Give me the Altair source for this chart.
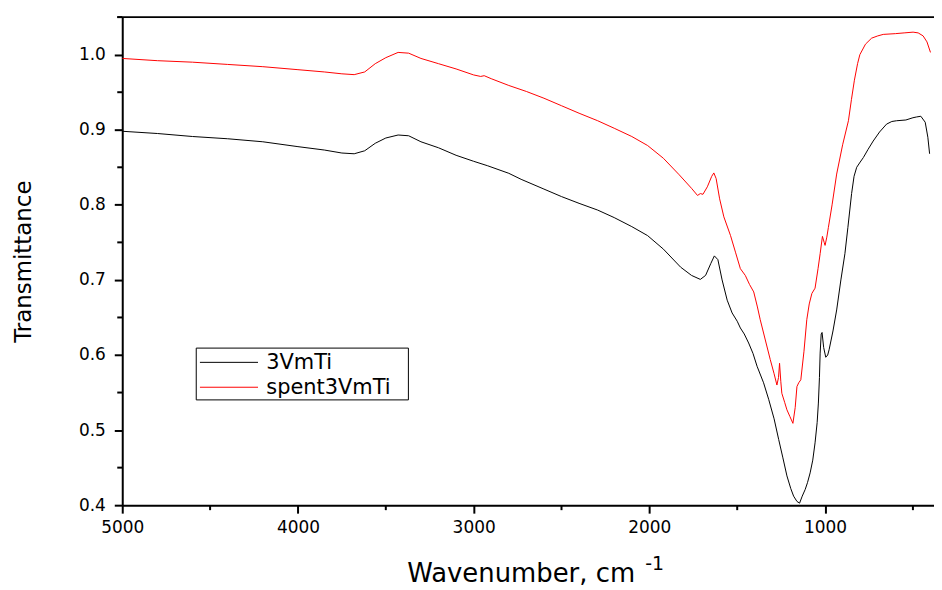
import altair as alt
import pandas as pd

# ---- data ----
wn_black = [5000, 4800, 4600, 4400, 4200, 4000, 3850, 3750, 3680, 3620, 3560, 3500, 3430, 3370, 3300, 3200,
            3100, 3000, 2920, 2800, 2730, 2600, 2500, 2400, 2294, 2200, 2100, 2010, 1920, 1822, 1760, 1710,
            1680, 1650, 1630, 1610, 1586, 1557, 1529, 1500, 1482, 1460, 1435, 1410, 1387, 1350, 1321, 1290,
            1264, 1240, 1217, 1195, 1179, 1160, 1145, 1130, 1113, 1100, 1085, 1070, 1057, 1045, 1038, 1032,
            1028, 1022, 1017, 1008, 996, 985, 977, 955, 934, 910, 887, 870, 849, 835, 820, 800, 782, 755,
            726, 690, 650, 620, 593, 540, 500, 480, 455, 430, 415, 405]
tr_black = [0.898, 0.895, 0.891, 0.888, 0.884, 0.8775, 0.873, 0.869, 0.868, 0.872, 0.882, 0.889, 0.893, 0.892,
            0.884, 0.876, 0.866, 0.858, 0.852, 0.842, 0.834, 0.821, 0.811, 0.802, 0.793, 0.783, 0.771, 0.759,
            0.741, 0.717, 0.706, 0.7007, 0.706, 0.722, 0.732, 0.727, 0.700, 0.673, 0.656, 0.645, 0.636, 0.628,
            0.616, 0.602, 0.585, 0.563, 0.541, 0.515, 0.4875, 0.463, 0.439, 0.422, 0.412, 0.405, 0.4027, 0.412,
            0.421, 0.430, 0.443, 0.460, 0.483, 0.510, 0.536, 0.570, 0.6025, 0.628, 0.630, 0.610, 0.597, 0.600,
            0.607, 0.632, 0.660, 0.700, 0.735, 0.770, 0.815, 0.838, 0.850, 0.857, 0.863, 0.874, 0.885, 0.897,
            0.9075, 0.911, 0.912, 0.913, 0.916, 0.917, 0.918, 0.910, 0.890, 0.868]

wn_red = [5000, 4800, 4600, 4400, 4200, 4000, 3850, 3750, 3680, 3620, 3560, 3500, 3430, 3370, 3300, 3200, 3100,
          3000, 2960, 2940, 2900, 2800, 2700, 2600, 2500, 2400, 2294, 2200, 2100, 2010, 1920, 1830, 1760, 1726,
          1710, 1695, 1670, 1645, 1633, 1620, 1600, 1576, 1538, 1510, 1482, 1454, 1430, 1406, 1385, 1369, 1340,
          1312, 1290, 1274, 1265, 1259, 1252, 1246, 1230, 1217, 1200, 1183, 1170, 1160, 1150, 1138, 1120, 1104,
          1090, 1075, 1057, 1040, 1028, 1015, 1005, 1000, 990, 981, 960, 934, 900, 867, 850, 833, 815, 802, 770,
          735, 700, 669, 600, 550, 499, 470, 442, 420, 400]
tr_red = [0.995, 0.992, 0.990, 0.987, 0.984, 0.980, 0.977, 0.9745, 0.9734, 0.977, 0.988, 0.996, 1.003, 1.002,
          0.995, 0.988, 0.981, 0.973, 0.971, 0.972, 0.968, 0.959, 0.951, 0.942, 0.932, 0.922, 0.912, 0.902, 0.891,
          0.879, 0.862, 0.840, 0.822, 0.8125, 0.815, 0.814, 0.824, 0.838, 0.8425, 0.835, 0.808, 0.784, 0.759,
          0.737, 0.715, 0.706, 0.694, 0.684, 0.664, 0.647, 0.620, 0.594, 0.575, 0.560, 0.570, 0.589, 0.565, 0.549,
          0.537, 0.527, 0.518, 0.509, 0.530, 0.558, 0.563, 0.567, 0.605, 0.647, 0.668, 0.682, 0.689, 0.715, 0.735,
          0.758, 0.750, 0.746, 0.757, 0.770, 0.800, 0.841, 0.880, 0.912, 0.940, 0.966, 0.988, 1.000, 1.014, 1.022,
          1.025, 1.027, 1.028, 1.029, 1.030, 1.029, 1.025, 1.017, 1.003]

series_names = ["3VmTi", "spent3VmTi"]
series_colors = ["#000000", "#ff0000"]

x_major = [5000, 4000, 3000, 2000, 1000]
x_minor = [4500, 3500, 2500, 1500, 500]
y_major = [0.4, 0.5, 0.6, 0.7, 0.8, 0.9, 1.0]
y_minor = [0.45, 0.55, 0.65, 0.75, 0.85, 0.95, 1.05]

X_DOMAIN = [5000, 380]
Y_DOMAIN = [0.4, 1.05]
W, H = 815, 490
FONT = "DejaVu Sans"

df = pd.concat([
    pd.DataFrame({"wn": wn_black, "T": tr_black, "series": series_names[0], "order": range(len(wn_black))}),
    pd.DataFrame({"wn": wn_red, "T": tr_red, "series": series_names[1], "order": range(len(wn_red))}),
])

xs = alt.Scale(domain=X_DOMAIN, nice=False, zero=False)
ys = alt.Scale(domain=Y_DOMAIN, nice=False, zero=False)

lines = alt.Chart(df).mark_line(strokeWidth=1, clip=True).encode(
    x=alt.X("wn:Q", scale=xs, axis=alt.Axis(
        values=x_major, format="d", title="Wavenumber, cm", tickSize=8, tickWidth=2, domainWidth=2,
        domainColor="black", tickColor="black", labelFont=FONT, labelFontSize=17, labelColor="black",
        labelPadding=6, labelFlush=False, labelOverlap=False, grid=False, titleFont=FONT, titleFontSize=26,
        titleFontWeight="normal", titleColor="black", titleX=400, titleY=77, titleBaseline="alphabetic",
        titleAlign="center")),
    y=alt.Y("T:Q", scale=ys, axis=alt.Axis(
        values=y_major, format=".1f", title="Transmittance", tickSize=8, tickWidth=2, domainWidth=2,
        domainColor="black", tickColor="black", labelFont=FONT, labelFontSize=17, labelColor="black",
        labelPadding=9, labelFlush=False, grid=False, titleFont=FONT, titleFontSize=23,
        titleFontWeight="normal", titleColor="black", titleX=-92, titleY=245, titleBaseline="alphabetic",
        titleAngle=270)),
    color=alt.Color("series:N", scale=alt.Scale(domain=series_names, range=series_colors), legend=None),
    order="order:Q",
)

xminor = alt.Chart(pd.DataFrame({"v": x_minor})).mark_rule(color="black", strokeWidth=2).encode(
    x=alt.X("v:Q", scale=xs), y=alt.value(H), y2=alt.value(H + 5))
yminor = alt.Chart(pd.DataFrame({"v": y_minor})).mark_rule(color="black", strokeWidth=2).encode(
    y=alt.Y("v:Q", scale=ys), x=alt.value(-5), x2=alt.value(0))

one = pd.DataFrame({"a": [0]})
topline = alt.Chart(one).mark_rule(color="black", strokeWidth=2).encode(
    x=alt.value(-5), x2=alt.value(W), y=alt.value(0))

sup = alt.Chart(one).mark_text(text="-1", font=FONT, fontSize=19, align="left", baseline="alphabetic",
                               color="black").encode(x=alt.value(525), y=alt.value(555))

# legend box
box = alt.Chart(one).mark_rect(fill="white", stroke="black", strokeWidth=1).encode(
    x=alt.value(74.3), x2=alt.value(287.3), y=alt.value(332.3), y2=alt.value(384.3))
leg_layers = []
for i, (name, col) in enumerate(zip(series_names, series_colors)):
    yy = 346.6 + 25 * i
    leg_layers.append(alt.Chart(one).mark_rule(color=col, strokeWidth=1).encode(
        x=alt.value(78), x2=alt.value(136.3), y=alt.value(yy)))
    leg_layers.append(alt.Chart(one).mark_text(text=name, font=FONT, fontSize=21, align="left",
                                               baseline="middle", color="black").encode(
        x=alt.value(144.6), y=alt.value(yy + 1)))

chart = alt.layer(lines, xminor, yminor, topline, sup, box, *leg_layers).properties(
    width=W, height=H,
    autosize=alt.AutoSizeParams(type="none"),
    padding={"left": 114.7, "top": 8, "right": 0, "bottom": 84},
).configure_view(stroke=None).configure(background="white")

chart.save("out.html", embed_options={"renderer": "svg", "actions": False})
